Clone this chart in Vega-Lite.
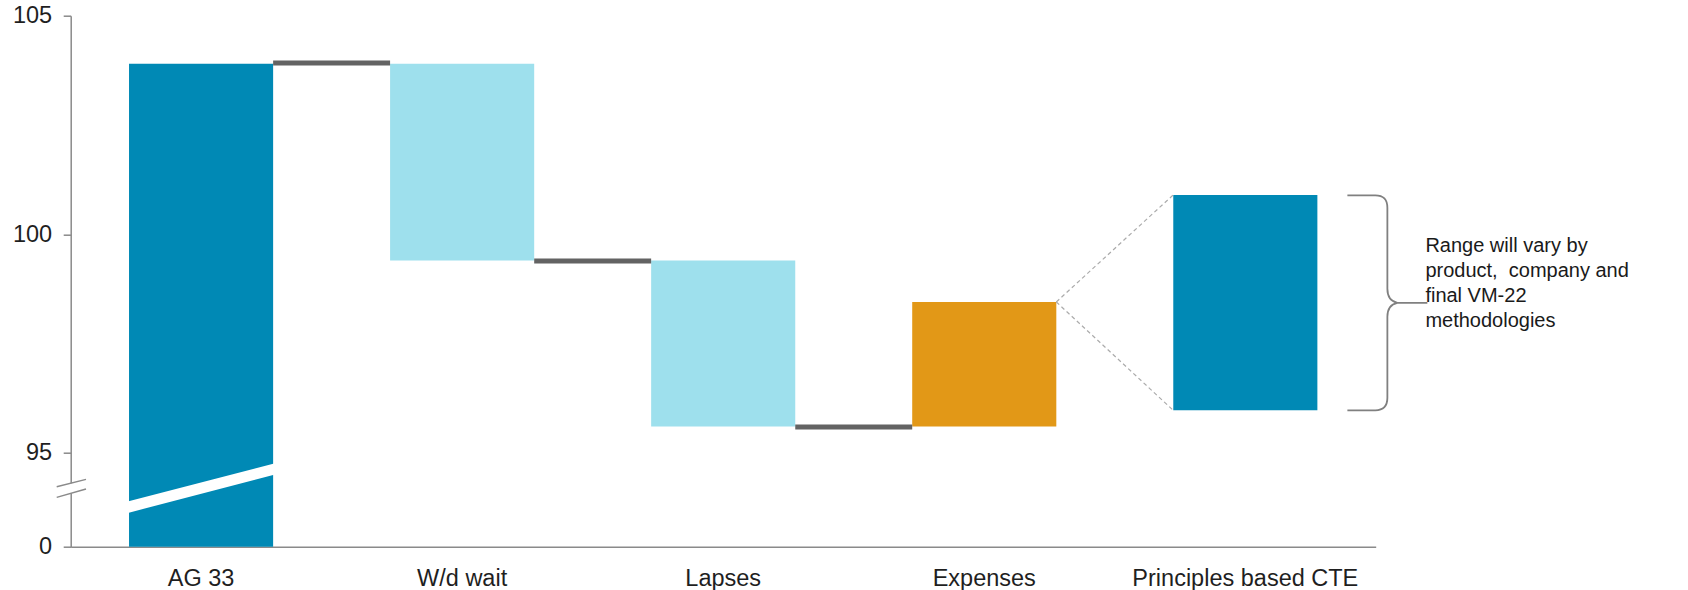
{
  "$schema": "https://vega.github.io/schema/vega-lite/v6.json",
  "width": 1305,
  "height": 531,
  "autosize": {"type": "none"},
  "padding": {"left": 70.7, "top": 15.7, "right": 312.3, "bottom": 43.3},
  "background": "white",
  "config": {
    "view": {"stroke": null},
    "font": "Liberation Sans",
    "axis": {
      "labelFont": "Liberation Sans",
      "labelFontSize": 23.5,
      "labelColor": "#1f1f1f",
      "labelLimit": 0,
      "domainColor": "#8a8a8a",
      "domainWidth": 1.5,
      "tickColor": "#8a8a8a",
      "tickWidth": 1.5,
      "grid": false
    },
    "axisY": {"tickSize": 7.5, "labelPadding": 11.6},
    "axisX": {"ticks": false, "labelPadding": 20, "labelAngle": 0}
  },
  "datasets": {
    "bars": [
      {"step": "AG 33", "start": 0, "end": 103.9, "kind": "total"},
      {"step": "W/d wait", "start": 103.9, "end": 99.4, "kind": "decrease"},
      {"step": "Lapses", "start": 99.4, "end": 95.6, "kind": "decrease"},
      {"step": "Expenses", "start": 95.6, "end": 98.45, "kind": "increase"},
      {"step": "Principles based CTE", "start": 95.97, "end": 100.9, "kind": "total"}
    ],
    "connectors": [
      {"from": "AG 33", "to": "W/d wait", "level": 103.92},
      {"from": "W/d wait", "to": "Lapses", "level": 99.39},
      {"from": "Lapses", "to": "Expenses", "level": 95.59}
    ],
    "zoomLines": [
      {"from": "Expenses", "to": "Principles based CTE", "y_from": 98.45, "y_to": 100.9},
      {"from": "Expenses", "to": "Principles based CTE", "y_from": 98.45, "y_to": 95.97}
    ],
    "note": [
      {"anchor": "Principles based CTE", "label": ["Range will vary by", "product,\u00a0 company and", "final VM-22", "methodologies"]}
    ],
    "single": [{}]
  },
  "resolve": {"scale": {"x": "independent"}},
  "layer": [
    {
      "layer": [
        {
          "data": {"name": "bars"},
          "mark": {"type": "bar"},
          "encoding": {
            "x": {
              "field": "step",
              "type": "nominal",
              "sort": ["AG 33", "W/d wait", "Lapses", "Expenses", "Principles based CTE"],
              "scale": {
                "domain": ["AG 33", "W/d wait", "Lapses", "Expenses", "Principles based CTE"],
                "paddingInner": 0.448,
                "paddingOuter": 0.2234
              },
              "axis": {"title": null}
            },
            "y": {
              "field": "start",
              "type": "quantitative",
              "scale": {"domain": [0, 92.85, 105], "range": [531, 531, 0], "nice": false, "zero": false},
              "axis": {"title": null, "values": [0, 95, 100, 105]}
            },
            "y2": {"field": "end"},
            "color": {
              "field": "kind",
              "type": "nominal",
              "scale": {"domain": ["total", "decrease", "increase"], "range": ["#0089B5", "#9EE0ED", "#E29817"]},
              "legend": null
            }
          }
        },
        {
          "data": {"name": "single"},
          "mark": {"type": "rule", "stroke": "white", "strokeWidth": 11, "strokeCap": "square"},
          "encoding": {
            "x": {"datum": "AG 33", "type": "nominal", "bandPosition": 0},
            "x2": {"datum": "AG 33", "bandPosition": 1},
            "y": {"datum": 93.76, "type": "quantitative"},
            "y2": {"datum": 94.62}
          }
        },
        {
          "data": {"name": "connectors"},
          "mark": {"type": "rule", "stroke": "#636363", "strokeWidth": 5},
          "encoding": {
            "x": {"field": "from", "type": "nominal", "bandPosition": 1},
            "x2": {"field": "to", "bandPosition": 0},
            "y": {"field": "level", "type": "quantitative"}
          }
        },
        {
          "data": {"name": "zoomLines"},
          "mark": {"type": "rule", "stroke": "#ababab", "strokeWidth": 1.2, "strokeDash": [4, 3]},
          "encoding": {
            "x": {"field": "from", "type": "nominal", "bandPosition": 1},
            "x2": {"field": "to", "bandPosition": 0},
            "y": {"field": "y_from", "type": "quantitative"},
            "y2": {"field": "y_to"}
          }
        },
        {
          "data": {"name": "single"},
          "mark": {
            "type": "point",
            "shape": "M -0.372 -1 L -0.112 -1 Q 0 -1 0 -0.884 L 0 -0.13 Q 0 -0.019 0.093 0 L 0.372 0 M 0.093 0 Q 0 0.019 0 0.13 L 0 0.884 Q 0 1 -0.112 1 L -0.372 1",
            "size": 46225,
            "filled": false,
            "color": "#808080",
            "strokeWidth": 1.8,
            "opacity": 1,
            "xOffset": 70
          },
          "encoding": {
            "x": {"datum": "Principles based CTE", "type": "nominal", "bandPosition": 1},
            "y": {"datum": 98.43, "type": "quantitative"}
          }
        },
        {
          "data": {"name": "note"},
          "mark": {
            "type": "text",
            "align": "left",
            "baseline": "middle",
            "fontSize": 20,
            "lineHeight": 25,
            "color": "#1a1a1a",
            "font": "Liberation Sans",
            "xOffset": 108
          },
          "encoding": {
            "x": {"field": "anchor", "type": "nominal", "bandPosition": 1},
            "y": {"datum": 99.73, "type": "quantitative"},
            "text": {"field": "label"}
          }
        }
      ]
    },
    {
      "layer": [
        {
          "data": {"name": "single"},
          "mark": {"type": "rule", "stroke": "white", "strokeWidth": 5},
          "encoding": {
            "x": {"datum": 0, "type": "quantitative", "scale": {"domain": [0, 1]}, "axis": null},
            "y": {"datum": 94.07, "type": "quantitative"},
            "y2": {"datum": 94.30}
          }
        },
        {
          "data": {"name": "single"},
          "mark": {
            "type": "point",
            "shape": "M -0.7 -0.08 L 0.765 -0.45 M -0.7 0.45 L 0.765 0.035",
            "size": 1600,
            "filled": false,
            "color": "#8a8a8a",
            "strokeWidth": 1.5,
            "opacity": 1
          },
          "encoding": {
            "x": {"datum": 0, "type": "quantitative", "scale": {"domain": [0, 1]}, "axis": null},
            "y": {"datum": 94.185, "type": "quantitative"}
          }
        }
      ]
    }
  ]
}
